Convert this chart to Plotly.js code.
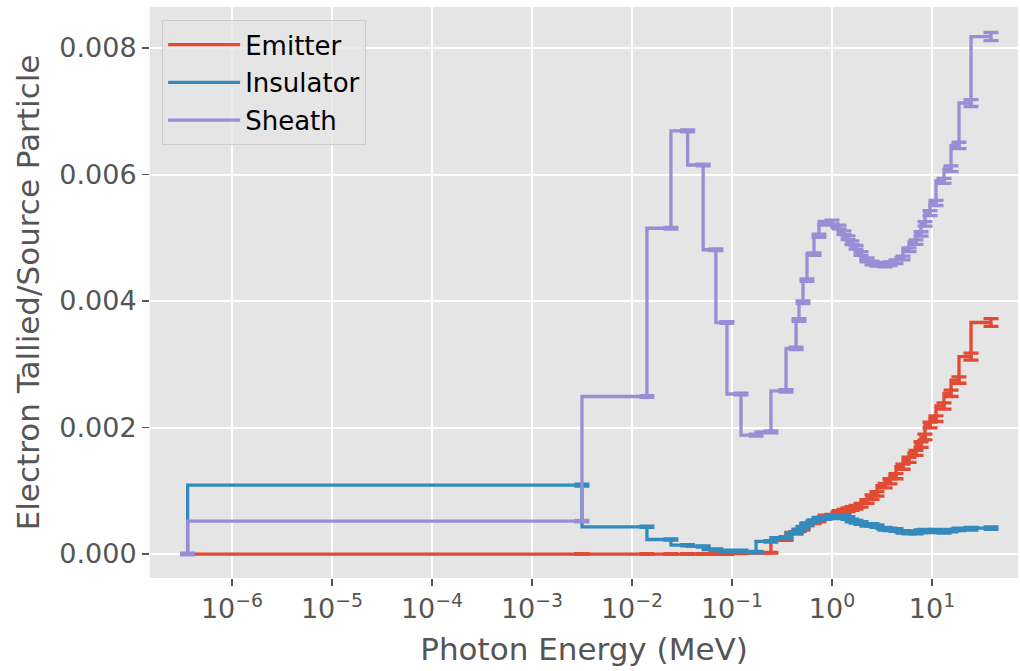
<!DOCTYPE html>
<html>
<head>
<meta charset="utf-8">
<script src="https://cdn.plot.ly/plotly-3.0.1.min.js"></script>
<style>html,body{margin:0;padding:0;background:#fff;}#chart{width:1020px;height:671px;}</style>
</head>
<body>
<div id="chart"></div>
<script>
// Photon energy bin upper edges (MeV)
const energy = [3.6e-7, 3.16e-3, 0.0141, 0.0245, 0.036, 0.0515, 0.069, 0.089, 0.123, 0.174,
  0.245, 0.347, 0.437, 0.468, 0.513, 0.562, 0.661, 0.741, 0.851, 1.0,
  1.175, 1.318, 1.445, 1.585, 1.738, 1.95, 2.239, 2.512, 2.818, 3.388,
  3.802, 4.365, 5.129, 5.888, 6.918, 7.762, 8.511, 9.55, 10.96, 13.18,
  15.49, 18.62, 24.55, 38.9];

const emitter = [0, 0, 0, 0, 0, 0, 0, 0, 0.00001, 0.00002,
  0.00002, 0.00023, 0.00034, 0.00037, 0.0004, 0.00047, 0.0005, 0.00053, 0.00059, 0.0006,
  0.00066, 0.00068, 0.0007, 0.00072, 0.00074, 0.00077, 0.00083, 0.0009, 0.00095, 0.00108,
  0.00115, 0.00123, 0.00138, 0.00149, 0.0016, 0.00173, 0.00185, 0.00204, 0.00214, 0.00234,
  0.00254, 0.00275, 0.00312, 0.00366];
const emitterErr = [0, 0.000005, 0.000005, 0.000005, 0.000005, 0.000005, 0.000005, 0.000005, 0.000005, 0.000005,
  0.000005, 0.000015, 0.000015, 0.000015, 0.00002, 0.00002, 0.00002, 0.00002, 0.000025, 0.000025,
  0.000025, 0.000025, 0.00003, 0.00003, 0.00003, 0.00003, 0.00003, 0.000035, 0.000035, 0.000035,
  0.00004, 0.00004, 0.00004, 0.00004, 0.00004, 0.000045, 0.000045, 0.000045, 0.000045, 0.00005,
  0.00005, 0.00005, 0.000055, 0.00006];

const insulator = [0, 0.00109, 0.00043, 0.00023, 0.00014, 0.00012, 0.00007, 0.00005, 0.00005, 0.00003,
  0.0002, 0.00026, 0.00033, 0.00038, 0.00042, 0.00047, 0.00052, 0.00056, 0.00057, 0.00059,
  0.00058, 0.00059, 0.00057, 0.00053, 0.00051, 0.00049, 0.00046, 0.00046, 0.00044, 0.0004,
  0.00039, 0.00038, 0.00035, 0.00034, 0.00034, 0.00036, 0.00037, 0.00036, 0.00037, 0.00035,
  0.00037, 0.00039, 0.0004, 0.00041];
const insulatorErr = [0, 0.000015, 0.00001, 0.00001, 0.00001, 0.00001, 0.00001, 0.00001, 0.00001, 0.00001,
  0.000012, 0.000015, 0.000015, 0.000015, 0.000015, 0.00002, 0.00002, 0.00002, 0.00002, 0.00002,
  0.00002, 0.00002, 0.00002, 0.00002, 0.00002, 0.00002, 0.00002, 0.00002, 0.00002, 0.00002,
  0.00002, 0.00002, 0.00002, 0.00002, 0.00002, 0.00002, 0.00002, 0.00002, 0.00002, 0.00002,
  0.00002, 0.00002, 0.00002, 0.00002];

const sheath = [0, 0.00052, 0.00249, 0.00515, 0.00669, 0.00615, 0.00481, 0.00366, 0.00253, 0.00188,
  0.00193, 0.00258, 0.00325, 0.0037, 0.00398, 0.00433, 0.00474, 0.00503, 0.00523, 0.00525,
  0.00517, 0.00508, 0.005, 0.00492, 0.00485, 0.00475, 0.00465, 0.0046, 0.00458, 0.00457,
  0.00459, 0.00462, 0.00468, 0.00481, 0.00493, 0.00506, 0.00522, 0.00539, 0.00555, 0.0059,
  0.00609, 0.00646, 0.00713, 0.00818];
const sheathErr = [0.000012, 0.000012, 0.000015, 0.000015, 0.000015, 0.000015, 0.000015, 0.000015, 0.000015, 0.000015,
  0.000015, 0.00002, 0.00002, 0.00002, 0.00002, 0.00002, 0.00002, 0.000025, 0.00003, 0.00003,
  0.00003, 0.00003, 0.00003, 0.00003, 0.00003, 0.00003, 0.00003, 0.00003, 0.00003, 0.00003,
  0.00003, 0.00003, 0.00003, 0.00003, 0.000035, 0.000035, 0.000035, 0.00004, 0.00004, 0.00004,
  0.000045, 0.00005, 0.000055, 0.000065];

const seriesNames = ['Emitter', 'Insulator', 'Sheath'];
const seriesColors = ['#E24A33', '#348ABD', '#988ED5'];
const seriesValues = [emitter, insulator, sheath];
const seriesErrors = [emitterErr, insulatorErr, sheathErr];

const xTickVals = [1e-6, 1e-5, 1e-4, 1e-3, 1e-2, 1e-1, 1, 10];
const xTickText = ['10<sup>\u22126</sup>', '10<sup>\u22125</sup>', '10<sup>\u22124</sup>', '10<sup>\u22123</sup>',
  '10<sup>\u22122</sup>', '10<sup>\u22121</sup>', '10<sup>0</sup>', '10<sup>1</sup>'];

const traces = seriesNames.map((name, i) => ({
  type: 'scatter',
  mode: 'lines',
  name: name,
  legendgroup: name,
  x: energy,
  y: seriesValues[i],
  line: {shape: 'vh', color: seriesColors[i], width: 3.3},
  error_y: {type: 'data', array: seriesErrors[i], visible: true, color: seriesColors[i], thickness: 3.3, width: 7.5}
}));

const FONT = 'DejaVu Sans, sans-serif';
const layout = {
  width: 1020, height: 671,
  margin: {l: 150, r: 2, t: 7, b: 93},
  paper_bgcolor: '#ffffff',
  plot_bgcolor: '#E5E5E5',
  font: {family: FONT, color: '#555555', size: 27},
  showlegend: true,
  legend: {
    x: 0.014, y: 0.977, xanchor: 'left', yanchor: 'top',
    bgcolor: 'rgba(229,229,229,0.8)', bordercolor: '#cccccc', borderwidth: 1,
    itemwidth: 72, tracegroupgap: 1,
    font: {family: FONT, size: 26, color: '#000000'}
  },
  xaxis: {
    type: 'log',
    range: [-6.82, 1.86],
    tickvals: xTickVals, ticktext: xTickText,
    showgrid: true, gridcolor: '#ffffff', gridwidth: 2,
    zeroline: false, showline: false,
    ticks: 'outside', ticklen: 7, tickwidth: 1.5, tickcolor: '#555555',
    tickfont: {family: FONT, size: 27, color: '#555555'},
    title: {text: 'Photon Energy (MeV)', font: {family: FONT, size: 31, color: '#555555'}, standoff: 14}
  },
  yaxis: {
    range: [-0.000379, 0.008648],
    tick0: 0, dtick: 0.002, tickformat: '.3f',
    showgrid: true, gridcolor: '#ffffff', gridwidth: 2,
    zeroline: false, showline: false,
    ticks: 'outside', ticklen: 7, tickwidth: 1.5, tickcolor: '#555555',
    tickfont: {family: FONT, size: 27, color: '#555555'},
    title: {text: 'Electron Tallied/Source Particle', font: {family: FONT, size: 31, color: '#555555'}, standoff: 10}
  }
};

Plotly.newPlot('chart', traces, layout, {displayModeBar: false, staticPlot: true});
</script>
</body>
</html>
